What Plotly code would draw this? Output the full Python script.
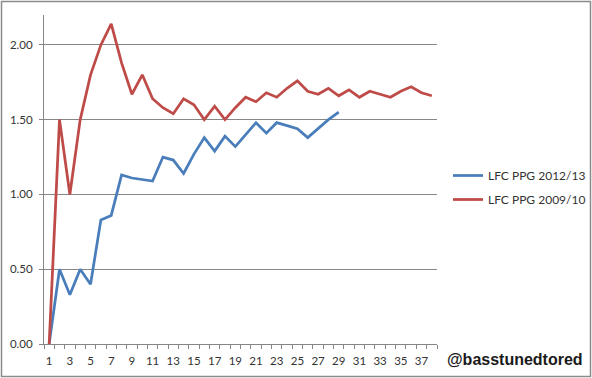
import plotly.graph_objects as go

games_2012 = list(range(1, 30))
ppg_2012 = [0.00, 0.50, 0.33, 0.50, 0.40, 0.83, 0.86, 1.13, 1.11, 1.10,
            1.09, 1.25, 1.23, 1.14, 1.27, 1.38, 1.29, 1.39, 1.32, 1.40,
            1.48, 1.41, 1.48, 1.46, 1.44, 1.38, 1.44, 1.50, 1.55]

games_2009 = list(range(1, 39))
ppg_2009 = [0.00, 1.50, 1.00, 1.50, 1.80, 2.00, 2.14, 1.88, 1.67, 1.80,
            1.64, 1.58, 1.54, 1.64, 1.60, 1.50, 1.59, 1.50, 1.58, 1.65,
            1.62, 1.68, 1.65, 1.71, 1.76, 1.69, 1.67, 1.71, 1.66, 1.70,
            1.65, 1.69, 1.67, 1.65, 1.69, 1.72, 1.68, 1.66]

series_names = ["LFC PPG 2012/13", "LFC PPG 2009/10"]
x_tick_labels = [str(i) for i in range(1, 38, 2)]
y_ticks = [0.0, 0.5, 1.0, 1.5, 2.0]
watermark = "@basstunedtored"

W, H = 592, 378
L, R, T, B = 44, 155, 15, 34
PW, PH = W - L - R, H - T - B

def px_x(p):
    return (p - L) / PW

def px_y(p):
    return (H - B - p) / PH

fig = go.Figure()
fig.add_trace(go.Scatter(x=games_2012, y=ppg_2012, mode="lines", name=series_names[0],
                         line=dict(color="#4a7ebb", width=2.75), legendgroup="a"))
fig.add_trace(go.Scatter(x=games_2009, y=ppg_2009, mode="lines", name=series_names[1],
                         line=dict(color="#be4b48", width=2.75), legendgroup="b"))

tickfont = dict(family="Lato, 'Open Sans', sans-serif", size=11.5, color="#333333")

fig.update_layout(
    width=W, height=H,
    margin=dict(l=L, r=R, t=T, b=B, autoexpand=False),
    paper_bgcolor="white", plot_bgcolor="white",
    showlegend=True,
    legend=dict(x=px_x(448), y=px_y(161), xanchor="left", yanchor="top",
                font=dict(family="Lato, 'Open Sans', sans-serif", size=12, color="#333333"),
                tracegroupgap=5, bgcolor="rgba(0,0,0,0)", traceorder="grouped"),
    xaxis=dict(range=[0.5, 38.5], tickmode="array", automargin=False,
               tickvals=[int(t) for t in x_tick_labels], ticktext=x_tick_labels,
               ticks="", showgrid=False, zeroline=False,
               showline=True, linecolor="#868686", linewidth=1,
               tickfont=tickfont, ticklabelstandoff=6,
               minor=dict(tickvals=[i + 0.5 for i in range(0, 39)], ticks="outside",
                          ticklen=4, tickcolor="#868686", showgrid=False)),
    yaxis=dict(range=[0, 2.2], tickmode="array", tickvals=y_ticks, automargin=False,
               ticktext=[f"{v:.2f}" for v in y_ticks],
               ticks="outside", ticklen=4, tickcolor="#868686",
               showgrid=True, gridcolor="#868686", gridwidth=1, zeroline=False,
               showline=True, linecolor="#868686", linewidth=1,
               tickfont=tickfont, ticklabelstandoff=4),
    shapes=[dict(type="rect", xref="paper", yref="paper",
                 x0=px_x(1.5), x1=px_x(590.5), y0=px_y(376.5), y1=px_y(1.5),
                 line=dict(color="#8a8a8a", width=1.5), fillcolor="rgba(0,0,0,0)", layer="below")],
    annotations=[dict(text=watermark, xref="paper", yref="paper",
                      x=px_x(514.7), y=px_y(359), xanchor="center", yanchor="middle",
                      showarrow=False,
                      font=dict(family="Liberation Sans, Arial, sans-serif", size=16,
                                color="#1a1a1a", weight="bold"))],
)

fig.write_html("out.html", config={"displayModeBar": False},
               post_script="document.body.style.margin='0';document.body.style.overflow='hidden';")
